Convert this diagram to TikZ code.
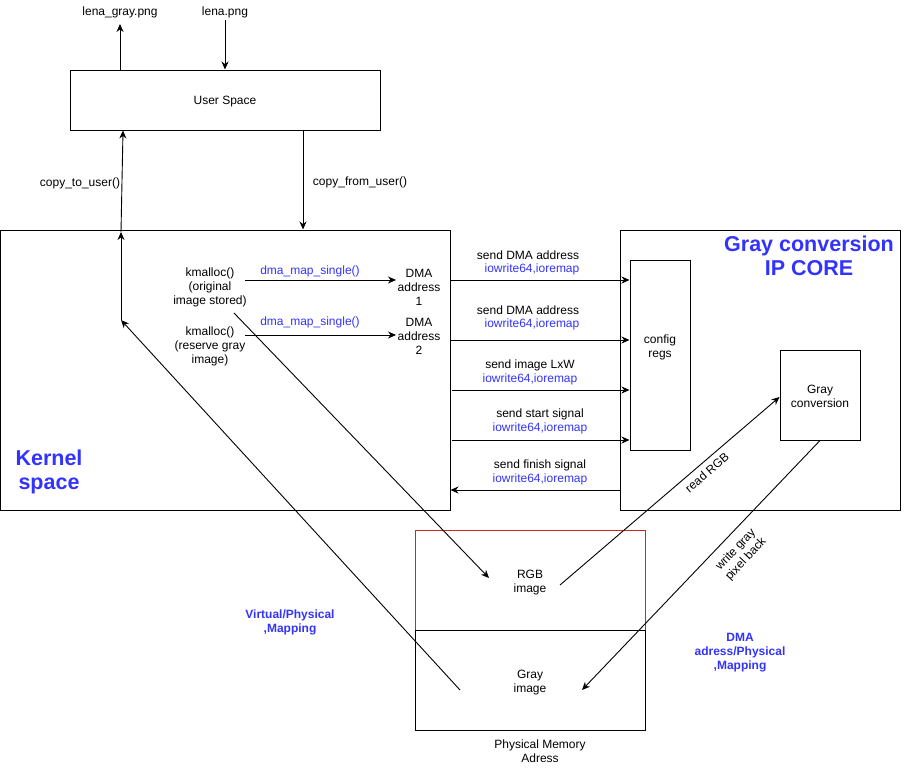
\documentclass[tikz,border=0pt]{standalone}
\usepackage{fontspec}
\setmainfont{Liberation Sans}
\usetikzlibrary{arrows.meta}
\definecolor{myblue}{RGB}{51,51,255}
\definecolor{myred}{RGB}{200,40,40}
\tikzset{
  txt/.style={font=\fontsize{12}{14}\selectfont, align=center, inner sep=0pt, yshift=-1.5pt},
  blu/.style={txt, text=myblue},
  bigttl/.style={font=\fontsize{21.5}{24}\selectfont\bfseries, text=myblue, align=center, inner sep=0pt, yshift=-1pt},
  midttl/.style={font=\fontsize{12}{14}\selectfont\bfseries, text=myblue, align=center, inner sep=0pt, yshift=-1.5pt},
  box/.style={draw, line width=1pt, inner sep=0pt},
  arr/.style={line width=0.9pt, -{Stealth[length=8pt,width=7pt]}},
  ln/.style={line width=0.9pt}
}
\begin{document}
\begin{tikzpicture}[x=1pt,y=-1pt]
\useasboundingbox (0,0) rectangle (911,771);

% main blocks
\node[box, minimum width=310pt, minimum height=60pt] (user) at (225,100) {};
\node[txt] (usert) at (225,100) {User Space};
\node[box, minimum width=449.5pt, minimum height=280pt] (kern) at (225.25,370) {};
\node[box, minimum width=280pt, minimum height=280pt] (ip) at (760,370) {};
\node[box, minimum width=60pt, minimum height=190pt] (cfg) at (660,355) {};
\node[txt] (cfgt) at (660,346) {config\\regs};
\node[box, minimum width=80pt, minimum height=90pt] (gc) at (820,395) {};
\node[txt] (gct) at (820,395) {Gray\\conversion};
\node[draw=myred, line width=0.8pt, minimum width=230pt, minimum height=100pt, inner sep=0pt] (rgbbox) at (530,580) {};
\node[box, minimum width=230pt, minimum height=100pt] (graybox) at (530,680) {};

% titles
\node[bigttl] (kt) at (49,471) {Kernel\\space};
\node[bigttl] (ipt) at (809,255) {Gray conversion\\IP CORE};

% files
\node[txt] (lg) at (120,11) {lena\_gray.png};
\node[txt] (ln) at (225,11) {lena.png};

% kernel contents
\node[txt] (k1) at (210,286) {kmalloc()\\(original\\image stored)};
\node[txt] (k2) at (210,345) {kmalloc()\\(reserve gray\\image)};
\node[txt] (d1) at (419,286) {DMA\\address\\1};
\node[txt] (d2) at (419,335) {DMA\\address\\2};
\node[blu] (m1) at (310,270) {dma\_map\_single()};
\node[blu] (m2) at (310,321) {dma\_map\_single()};

% memory contents
\node[txt] (rgbt) at (530,581) {RGB\\image};
\node[txt] (grayt) at (530,681) {Gray\\image};
\node[txt] (pm) at (540,750) {Physical Memory\\Adress};
\node[midttl] (vpm) at (290,621) {Virtual/Physical\\,Mapping};
\node[midttl] (dpm) at (740,651) {DMA\\adress/Physical\\,Mapping};

% register write labels
\node[txt] (s1) at (528,254) {send DMA address};
\node[blu] (i1) at (532,268) {iowrite64,ioremap};
\node[txt] (s2) at (528,309) {send DMA address};
\node[blu] (i2) at (532,323) {iowrite64,ioremap};
\node[txt] (s3) at (530,364) {send image LxW};
\node[blu] (i3) at (530,378) {iowrite64,ioremap};
\node[txt] (s4) at (540,413) {send start signal};
\node[blu] (i4) at (540,427) {iowrite64,ioremap};
\node[txt] (s5) at (540,464) {send finish signal};
\node[blu] (i5) at (540,478) {iowrite64,ioremap};

% copy labels
\node[txt] (ctu) at (80,182) {copy\_to\_user()};
\node[txt] (cfu) at (360,181) {copy\_from\_user()};

% rotated labels
\node[txt, rotate=41] (rr) at (707,471) {read RGB};
\node[txt, rotate=47] (wg) at (741,553) {write gray\\pixel back};

% connector end points
\coordinate (lgs) at (120,24);
\coordinate (lns) at (225,20);
\coordinate (jn) at (121,320);
\coordinate (kin) at (121,232);
\coordinate (k1o) at (234,313);
\coordinate (rgbin) at (489,578);
\coordinate (rgbo) at (560,585);
\coordinate (grayo) at (460,690);
\coordinate (grayin) at (582,690);
\coordinate (a1s) at (245,280);
\coordinate (a1e) at (396,280);
\coordinate (a2s) at (245,335);
\coordinate (a2e) at (396,335);

% user space traffic
\draw[arr] (user.north -| lgs) -- (lgs);
\draw[arr] (lns) -- (user.north -| lns);
\draw[arr] (kin) -- (user.south -| 123,0);
\draw[arr] (user.south -| 303,0) -- (kern.north -| 303,0);

% kernel internals
\draw[arr] (a1s) -- (a1e);
\draw[arr] (a2s) -- (a2e);
\draw[arr] (grayo) -- (jn);
\draw[arr] (jn) -- (kin);
\draw[arr] (k1o) -- (rgbin);

% register writes
\draw[arr] (kern.east |- 0,280) -- (cfg.west |- 0,280);
\draw[arr] (kern.east |- 0,340) -- (cfg.west |- 0,340);
\draw[arr] (452,390) -- (cfg.west |- 0,390);
\draw[arr] (452,440) -- (cfg.west |- 0,440);
\draw[arr] (ip.west |- 0,490) -- (kern.east |- 0,490);

% pixel traffic
\draw[arr] (rgbo) -- (gc.west |- 0,397);
\draw[arr] (gc.south) -- (grayin);
\end{tikzpicture}
\end{document}
